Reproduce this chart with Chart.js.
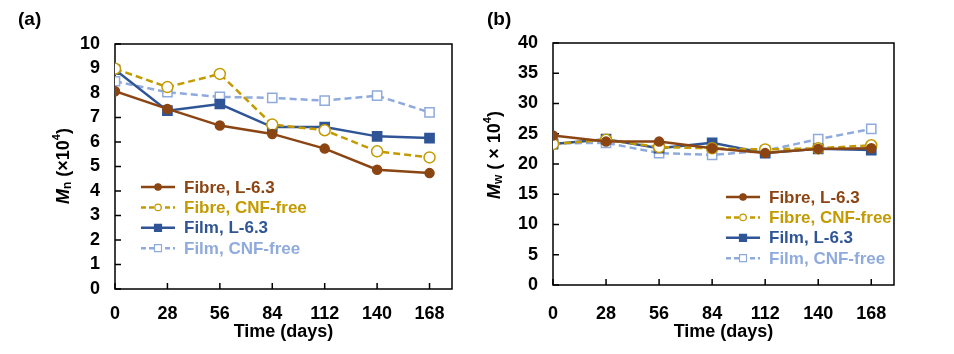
<!DOCTYPE html>
<html>
<head>
<meta charset="utf-8">
<script src="https://cdn.jsdelivr.net/npm/chart.js@4.4.1/dist/chart.umd.min.js"></script>
<style>
body { margin: 0; background: #fff; }
#wrap { position: relative; width: 954px; height: 354px; }
.panel { position: absolute; top: 0; width: 477px; height: 354px; }
.tag { position: absolute; top: 8px; font: bold 19px 'Liberation Sans', Arial, sans-serif; color: #000; }
</style>
</head>
<body>
<div id="wrap">
  <div class="panel" style="left:0"><canvas id="chartA"></canvas></div>
  <div class="panel" style="left:477px"><canvas id="chartB"></canvas></div>
  <div class="tag" style="left:18px">(a)</div>
  <div class="tag" style="left:487px">(b)</div>
</div>
<script>
// time points (days) and axis ticks
var days = [0, 28, 56, 84, 112, 140, 168];
var xTicks = [0, 28, 56, 84, 112, 140, 168];
var seriesNames = ["Fibre, L-6.3", "Fibre, CNF-free", "Film, L-6.3", "Film, CNF-free"];

// (a) Mn (x10^4)
var mnFibreL63 = [8.07, 7.35, 6.67, 6.33, 5.73, 4.87, 4.73];
var mnFibreFree = [8.99, 8.24, 8.78, 6.71, 6.48, 5.62, 5.37];
var mnFilmL63 = [8.95, 7.28, 7.55, 6.61, 6.61, 6.23, 6.16];
var mnFilmFree = [8.48, 8.03, 7.84, 7.80, 7.69, 7.89, 7.21];

// (b) Mw (x10^4)
var mwFibreL63 = [24.7, 23.7, 23.7, 22.6, 21.8, 22.5, 22.6];
var mwFibreFree = [23.3, 24.0, 22.8, 22.6, 22.4, 22.6, 23.1];
var mwFilmL63 = [23.3, 24.1, 22.6, 23.5, 21.8, 22.5, 22.3];
var mwFilmFree = [23.4, 23.5, 21.8, 21.5, 22.2, 24.1, 25.8];

var FONT = "'Liberation Sans', Arial, sans-serif";

// colour / marker per series
var styles = [
  { color: "#8B4513", dash: [], point: "circle", fill: true },
  { color: "#C39B00", dash: [7, 4], point: "circle", fill: false },
  { color: "#2F5597", dash: [], point: "rect", fill: true },
  { color: "#8FAADC", dash: [7, 4], point: "rect", fill: false }
];

function buildSets(list) {
  return list.map(function(vals, i) {
    var s = styles[i];
    return {
      label: seriesNames[i],
      data: vals.map(function(v, j) { return { x: days[j], y: v }; }),
      borderColor: s.color,
      backgroundColor: s.color,
      borderWidth: 2.5,
      borderDash: s.dash,
      pointStyle: s.point,
      pointRadius: s.point == "rect" ? 6.5 : (s.fill ? 4.5 : 5.5),
      pointBorderWidth: 1.5,
      pointBackgroundColor: s.fill ? s.color : "#fff",
      pointBorderColor: s.color,
      tension: 0
    };
  });
}

// box round the plot + inward tick marks
var framePlugin = {
  id: "frame",
  beforeDatasetsDraw: function(chart) {
    var a = chart.chartArea, c = chart.ctx;
    var xs = chart.scales.x, ys = chart.scales.y;
    c.save();
    c.strokeStyle = "#000";
    c.lineWidth = 1.5;
    c.strokeRect(a.left, a.top, a.right - a.left, a.bottom - a.top);
    c.beginPath();
    ys.ticks.forEach(function(t) {
      var y = ys.getPixelForValue(t.value);
      c.moveTo(a.left, y); c.lineTo(a.left + 6, y);
    });
    xs.ticks.forEach(function(t) {
      var x = xs.getPixelForValue(t.value);
      c.moveTo(x, a.bottom); c.lineTo(x, a.bottom - 6);
    });
    c.stroke();
    c.restore();
  }
};

// rotated y title with italic M and subscript
var yTitlePlugin = {
  id: "ytitle",
  afterDraw: function(chart, args, o) {
    var c = chart.ctx;
    var parts = [
      { t: "M", f: "italic bold 18px " + FONT, dy: 0 },
      { t: o.sub, f: "bold 12px " + FONT, dy: 4 },
      { t: o.mid, f: "bold 18px " + FONT, dy: 0 },
      { t: "4", f: "bold 11px " + FONT, dy: -7 },
      { t: ")", f: "bold 18px " + FONT, dy: 0 }
    ];
    var w = 0;
    parts.forEach(function(p) { c.font = p.f; p.w = c.measureText(p.t).width; w += p.w; });
    c.save();
    c.translate(o.x, o.y);
    c.rotate(-Math.PI / 2);
    c.fillStyle = "#000";
    c.textBaseline = "middle";
    c.textAlign = "left";
    var x = -w / 2;
    parts.forEach(function(p) {
      c.font = p.f;
      c.fillText(p.t, x, p.dy);
      x += p.w;
    });
    c.restore();
  }
};

// legend inside the plot with coloured text
var legendPlugin = {
  id: "boxlegend",
  afterDraw: function(chart, args, o) {
    var c = chart.ctx;
    c.save();
    chart.data.datasets.forEach(function(ds, i) {
      var y = o.y + i * o.dy;
      var s = styles[i];
      c.strokeStyle = ds.borderColor;
      c.lineWidth = 2.5;
      c.setLineDash(s.dash.length ? [5, 3] : []);
      c.beginPath();
      c.moveTo(o.x, y); c.lineTo(o.x + 34, y);
      c.stroke();
      c.setLineDash([]);
      var mx = o.x + 17;
      c.lineWidth = 1.2;
      c.fillStyle = s.fill ? s.color : "#fff";
      c.beginPath();
      if (s.point == "rect") c.rect(mx - 3.5, y - 3.5, 7, 7);
      else c.arc(mx, y, 3.2, 0, Math.PI * 2);
      c.fill();
      c.stroke();
      c.fillStyle = ds.borderColor;
      c.font = "bold 17px " + FONT;
      c.textBaseline = "middle";
      c.fillText(ds.label, o.x + 43, y + 1);
    });
    c.restore();
  }
};

function makeChart(id, sets, yMax, yStep, box, title, legend) {
  return new Chart(document.getElementById(id), {
    type: "line",
    data: { datasets: buildSets(sets) },
    options: {
      responsive: false,
      animation: false,
      layout: { padding: { left: 0, top: box.top, right: box.right, bottom: 0 } },
      plugins: {
        legend: { display: false },
        tooltip: { enabled: false },
        ytitle: title,
        boxlegend: legend
      },
      scales: {
        x: {
          type: "linear", min: 0, max: 180,
          afterBuildTicks: function(s) { s.ticks = xTicks.map(function(v) { return { value: v }; }); },
          afterFit: function(s) { s.height = box.xh; },
          grid: { display: false, drawTicks: false },
          border: { display: false },
          ticks: { color: "#000", padding: box.xpad, maxRotation: 0, autoSkip: false, font: { family: FONT, size: 18, weight: "bold" } },
          title: { display: true, text: "Time (days)", color: "#000", padding: { top: 0, bottom: 11 }, font: { family: FONT, size: 18, weight: "bold" } }
        },
        y: {
          min: 0, max: yMax,
          afterFit: function(s) { s.width = box.yw; },
          grid: { display: false, drawTicks: false },
          border: { display: false },
          ticks: { stepSize: yStep, autoSkip: false, color: "#000", padding: 15, font: { family: FONT, size: 18, weight: "bold" } }
        }
      }
    },
    plugins: [framePlugin, yTitlePlugin, legendPlugin]
  });
}

var canvA = document.getElementById("chartA"); canvA.width = 477; canvA.height = 354;
var canvB = document.getElementById("chartB"); canvB.width = 477; canvB.height = 354;

makeChart("chartA", [mnFibreL63, mnFibreFree, mnFilmL63, mnFilmFree], 10, 1,
  { top: 44, right: 25, yw: 115, xh: 65, xpad: 14 },
  { x: 64, y: 166, sub: "n", mid: " (\u00d710" },
  { x: 141, y: 187, dy: 20.4 });

makeChart("chartB", [mwFibreL63, mwFibreFree, mwFilmL63, mwFilmFree], 40, 5,
  { top: 43, right: 60, yw: 76, xh: 69, xpad: 18 },
  { x: 18, y: 155, sub: "w", mid: " ( \u00d7 10" },
  { x: 249, y: 197, dy: 20.4 });
</script>
</body>
</html>
